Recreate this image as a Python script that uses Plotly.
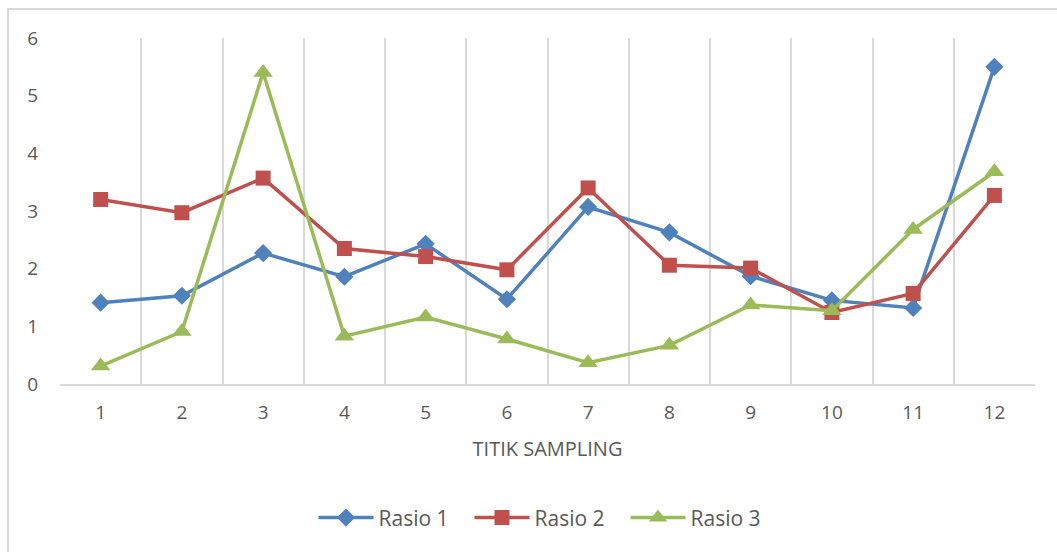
import plotly.graph_objects as go

# data
titik = ["1", "2", "3", "4", "5", "6", "7", "8", "9", "10", "11", "12"]
rasio_1 = [1.41, 1.53, 2.27, 1.86, 2.43, 1.47, 3.07, 2.63, 1.87, 1.45, 1.32, 5.50]
rasio_2 = [3.20, 2.97, 3.57, 2.35, 2.21, 1.98, 3.40, 2.06, 2.01, 1.24, 1.57, 3.27]
rasio_3 = [0.31, 0.91, 5.40, 0.83, 1.16, 0.78, 0.37, 0.67, 1.37, 1.27, 2.68, 3.68]

FONT = "Open Sans"
TXT = "#595959"
GRID = "#D9D9D9"

series = [
    ("Rasio 1", rasio_1, "#4F81BD", "diamond", 14),
    ("Rasio 2", rasio_2, "#C0504D", "square", 15),
    ("Rasio 3", rasio_3, "#9BBB59", "triangle-up", 17),
]

fig = go.Figure()
for name, vals, color, sym, size in series:
    fig.add_trace(go.Scatter(
        x=titik, y=vals, name=name, mode="lines+markers",
        line=dict(color=color, width=3.5),
        marker=dict(symbol=sym, size=size, color=color),
    ))

fig.update_layout(
    width=1057, height=552,
    margin=dict(l=60, r=22, t=38, b=168),
    paper_bgcolor="white", plot_bgcolor="white",
    font=dict(family=FONT, color=TXT, size=19),
    showlegend=True,
    legend=dict(orientation="h", x=0.5, xanchor="center", y=-0.387, yanchor="middle",
                font=dict(size=21, color=TXT), itemwidth=55, entrywidth=86,
                traceorder="normal"),
    shapes=[dict(type="rect", xref="paper", yref="paper",
                 x0=-52 / 975, x1=1.2, y0=-1.0, y1=1 + 29 / 346,
                 line=dict(color=GRID, width=2), fillcolor="rgba(0,0,0,0)", layer="below")],
)

fig.update_xaxes(
    type="category", range=[-0.5, 11.5], tickson="boundaries", automargin=False,
    showgrid=True, gridcolor=GRID, gridwidth=1.5,
    showline=True, linecolor=GRID, linewidth=2, ticks="", ticklabelstandoff=10,
    tickfont=dict(size=19, color=TXT),
    title=dict(text="TITIK SAMPLING", font=dict(size=20, color=TXT), standoff=18),
    zeroline=False,
)
fig.update_yaxes(
    range=[0, 6], dtick=1, automargin=False, showgrid=False, showline=False, zeroline=False,
    ticks="outside", ticklen=17, tickcolor="white", tickfont=dict(size=19, color=TXT),
)

fig.write_html("out.html", config={"displayModeBar": False},
               post_script="document.body.style.margin='0';document.body.style.overflow='hidden';")
